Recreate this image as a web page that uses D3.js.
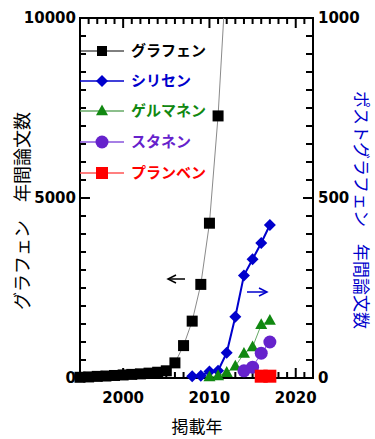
<!DOCTYPE html>
<html>
<head>
<meta charset="utf-8">
<script src="https://cdn.jsdelivr.net/npm/d3@7"></script>
<style>
  html, body { margin: 0; padding: 0; background: #fff; }
  svg { display: block; }
</style>
</head>
<body>
<svg id="chart" width="375" height="439"></svg>
<script>
// Annual paper counts
const graphYears = d3.range(1995, 2018);
const grapheneVals = [20, 30, 45, 55, 70, 85, 100, 115, 135, 160, 200, 420, 900, 1580, 2600, 4300, 7280, 11450, 15000, 18500, 21000, 23000, 24500];

const siliceneYears = d3.range(2008, 2018);
const siliceneVals = [5, 6, 18, 20, 70, 170, 285, 330, 375, 425];

const germaneneYears = d3.range(2010, 2018);
const germaneneVals = [3, 6, 15, 33, 68, 86, 148, 160];

const staneneYears = [2014, 2015, 2016, 2017];
const staneneVals = [20, 30, 69, 100];

const plumbeneYears = [2016, 2017];
const plumbeneVals = [5, 5];

const xTickVals = [2000, 2010, 2020];
const yLeftTicks = [0, 5000, 10000];
const yRightTicks = [0, 500, 1000];

const seriesNames = ["グラフェン", "シリセン", "ゲルマネン", "スタネン", "プランベン"];

const W = 375, H = 439;
const L = 80, R = 313, T = 18, B = 378;

const svg = d3.select("#chart");
const x = d3.scaleLinear().domain([1995, 2022]).range([L, R]);
const yL = d3.scaleLinear().domain([0, 10000]).range([B, T]);
const yR = d3.scaleLinear().domain([0, 1000]).range([B, T]);

const numFont = "'DejaVu Sans', sans-serif";
const jpFont = "'Noto Sans CJK JP', sans-serif";

// frame
const frame = svg.append("g").attr("stroke", "#000").attr("stroke-width", 2).attr("fill", "none");
frame.append("rect").attr("x", L).attr("y", T).attr("width", R - L).attr("height", B - T);

// x ticks (bottom and top, inward)
const xMinor = d3.range(1995, 2023);
xMinor.forEach(v => {
  const major = v % 10 === 0;
  const len = major ? 10 : 6;
  frame.append("line").attr("x1", x(v)).attr("x2", x(v)).attr("y1", B).attr("y2", B - len);
  frame.append("line").attr("x1", x(v)).attr("x2", x(v)).attr("y1", T).attr("y2", T + len);
});
// left y ticks
d3.range(0, 10001, 500).forEach(v => {
  const major = v % 5000 === 0;
  const len = major ? 10 : 6;
  frame.append("line").attr("x1", L).attr("x2", L + len).attr("y1", yL(v)).attr("y2", yL(v));
});
// right y ticks
d3.range(0, 1001, 50).forEach(v => {
  const major = v % 500 === 0;
  const len = major ? 10 : 7;
  frame.append("line").attr("x1", R).attr("x2", R - len).attr("y1", yR(v)).attr("y2", yR(v));
});

// tick labels
const lab = svg.append("g").attr("font-family", numFont).attr("font-weight", "bold").attr("font-size", 15).attr("fill", "#000");
xTickVals.forEach(v => {
  lab.append("text").attr("x", x(v)).attr("y", 403).attr("text-anchor", "middle").text(v);
});
yLeftTicks.forEach(v => {
  lab.append("text").attr("x", L - 4).attr("y", yL(v)).attr("dy", "0.36em").attr("text-anchor", "end").text(v);
});
yRightTicks.forEach(v => {
  lab.append("text").attr("x", R + 5).attr("y", yR(v)).attr("dy", "0.36em").attr("text-anchor", "start").text(v);
});

// axis titles
svg.append("text").attr("transform", "translate(23,211) rotate(-90)")
  .attr("text-anchor", "middle").attr("dy", "0.35em")
  .attr("font-family", jpFont).attr("font-size", 18).attr("fill", "#000")
  .text("グラフェン　年間論文数");
svg.append("text").attr("transform", "translate(361,210) rotate(90)")
  .attr("text-anchor", "middle").attr("dy", "0.35em")
  .attr("font-family", jpFont).attr("font-size", 17).attr("fill", "#0000cc")
  .text("ポストグラフェン　年間論文数");
svg.append("text").attr("x", 197).attr("y", 433)
  .attr("text-anchor", "middle")
  .attr("font-family", jpFont).attr("font-size", 17).attr("fill", "#000")
  .text("掲載年");

// clipping for data
svg.append("defs").append("clipPath").attr("id", "plotClip")
  .append("rect").attr("x", 60).attr("y", T).attr("width", R - 60 + 20).attr("height", B - T + 20);

const data = svg.append("g").attr("clip-path", "url(#plotClip)");

// marker shapes
function square(g, cx, cy, s, fill) {
  g.append("rect").attr("x", cx - s / 2).attr("y", cy - s / 2).attr("width", s).attr("height", s).attr("fill", fill);
}
function diamond(g, cx, cy, r, fill) {
  g.append("path").attr("d", `M${cx},${cy - r}L${cx + r},${cy}L${cx},${cy + r}L${cx - r},${cy}Z`).attr("fill", fill);
}
function triangle(g, cx, cy, s, fill) {
  const h = s * 0.9;
  g.append("path").attr("d", `M${cx},${cy - h * 0.6}L${cx + s / 2},${cy + h * 0.4}L${cx - s / 2},${cy + h * 0.4}Z`).attr("fill", fill);
}
function circle(g, cx, cy, r, fill) {
  g.append("circle").attr("cx", cx).attr("cy", cy).attr("r", r).attr("fill", fill);
}

const lineGen = (ys) => d3.line().x(d => x(d[0])).y(d => ys(d[1]));

function drawSeries(years, vals, ys, lineColor, lineW, markFn) {
  const pts = years.map((yr, i) => [yr, vals[i]]);
  data.append("path").datum(pts).attr("d", lineGen(ys)).attr("fill", "none")
    .attr("stroke", lineColor).attr("stroke-width", lineW);
  pts.forEach(p => markFn(data, x(p[0]), ys(p[1])));
}

drawSeries(graphYears, grapheneVals, yL, "#8a8a8a", 1, (g, cx, cy) => square(g, cx, cy, 11, "#000"));
drawSeries(siliceneYears, siliceneVals, yR, "#0000cc", 2, (g, cx, cy) => diamond(g, cx, cy, 6, "#0000cc"));
drawSeries(germaneneYears, germaneneVals, yR, "#66aa66", 1, (g, cx, cy) => triangle(g, cx, cy, 12, "#118811"));
drawSeries(staneneYears, staneneVals, yR, "#8855dd", 1, (g, cx, cy) => circle(g, cx, cy, 6.5, "#6622cc"));
drawSeries(plumbeneYears, plumbeneVals, yR, "#ff5555", 1, (g, cx, cy) => square(g, cx, cy, 13, "#ff0000"));

// legend
const legY = [51, 81, 111, 142, 173];
const legText = ["#000", "#0000cc", "#118811", "#6622cc", "#ff0000"];
const legLine = ["#000", "#0000cc", "#66aa66", "#8855dd", "#ff5555"];
const legMarks = [
  (g, cx, cy) => square(g, cx, cy, 10, "#000"),
  (g, cx, cy) => diamond(g, cx, cy, 6, "#0000cc"),
  (g, cx, cy) => triangle(g, cx, cy, 12, "#118811"),
  (g, cx, cy) => circle(g, cx, cy, 6.5, "#6622cc"),
  (g, cx, cy) => square(g, cx, cy, 12, "#ff0000")
];
const leg = svg.append("g");
seriesNames.forEach((name, i) => {
  leg.append("line").attr("x1", L).attr("x2", 124).attr("y1", legY[i]).attr("y2", legY[i])
    .attr("stroke", legLine[i]).attr("stroke-width", i === 0 ? 1 : 1.5);
  legMarks[i](leg, 102, legY[i]);
  leg.append("text").attr("x", 131).attr("y", legY[i]).attr("dy", "0.36em")
    .attr("font-family", jpFont).attr("font-weight", "bold").attr("font-size", 15)
    .attr("fill", legText[i]).text(name);
});

// axis direction arrows
function arrow(x1, x2, y, color) {
  const dir = Math.sign(x2 - x1);
  svg.append("line").attr("x1", x1).attr("x2", x2).attr("y1", y).attr("y2", y)
    .attr("stroke", color).attr("stroke-width", 1.5);
  svg.append("path").attr("d", `M${x2 - dir * 8},${y - 4}L${x2},${y}L${x2 - dir * 8},${y + 4}`)
    .attr("fill", "none").attr("stroke", color).attr("stroke-width", 1.5);
}
arrow(185, 168, 279, "#000");
arrow(247, 267, 292, "#0000cc");
</script>
</body>
</html>
